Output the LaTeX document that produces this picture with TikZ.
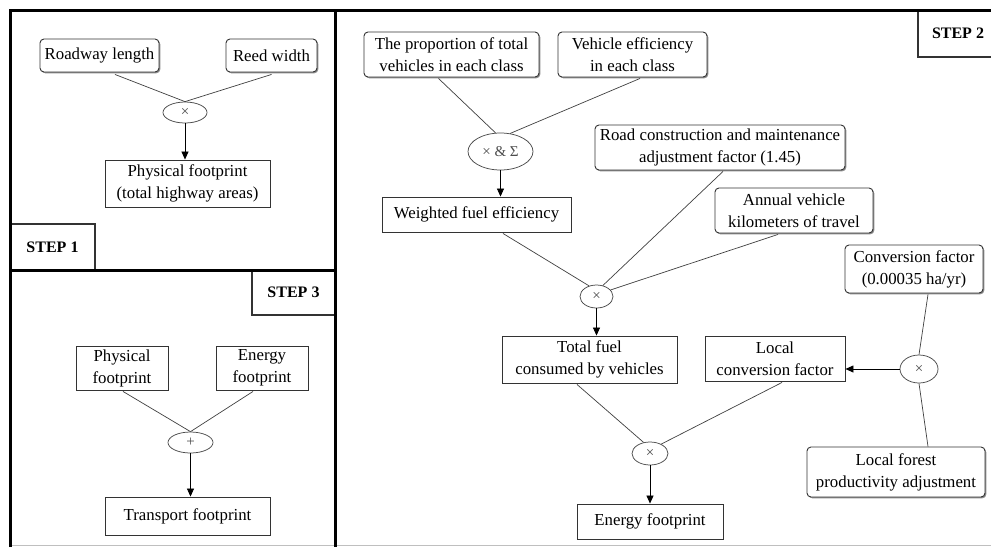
\documentclass[tikz,border=0pt]{standalone}
\usepackage{fontspec}
\setmainfont{Liberation Serif}
\usetikzlibrary{shapes.geometric,arrows.meta,shadows,calc}
\begin{document}
\begin{tikzpicture}[x=1pt,y=-1pt,
  txt/.style={font=\fontsize{16.8}{22}\selectfont, align=center, inner sep=0pt},
  rbox/.style={txt, draw=black!80, line width=0.9pt, rounded corners=4pt, fill=white,
     drop shadow={shadow xshift=1.3pt, shadow yshift=-1.3pt, fill=black!45, opacity=1}},
  sbox/.style={txt, draw=black!80, line width=0.9pt, fill=white,
     drop shadow={shadow xshift=1.3pt, shadow yshift=-1.3pt, fill=black!45, opacity=1}},
  op/.style={ellipse, draw=black!70, line width=0.75pt, inner sep=0pt, fill=white,
     font=\fontsize{15}{15}\selectfont, text=black!70},
  conn/.style={draw=black!75, line width=0.7pt},
  arr/.style={draw=black, line width=0.7pt, -{Triangle[length=8pt,width=7pt]}},
  frame/.style={line width=3pt, draw=black},
  steplab/.style={draw=black!80, line width=1.3pt, fill=white,
     font=\fontsize{16}{16}\selectfont\bfseries, inner sep=0pt}
]
\useasboundingbox (0,0) rectangle (991,547);
\fill[white] (0,0) rectangle (991,547);

% frame
\draw[black!25, line width=1pt] (10,545) -- (991,545);

% step labels
\node[steplab, minimum width=85pt, minimum height=46pt] (s1) at (52.5,247) {STEP 1};
\node[steplab, minimum width=83pt, minimum height=45pt] (s3) at (293.5,292.5) {STEP 3};
\node[steplab, minimum width=80pt, minimum height=47pt] (s2) at (958,33.5) {STEP 2};
\draw[frame] (10,270) -- (335,270);
\draw[frame] (10,547) -- (10,10) -- (991,10);
\draw[frame] (335,10) -- (335,547);

% ---------------- STEP 1
\node[rbox, minimum width=119pt, minimum height=33pt] (rl) at (99.5,55.5) {Roadway length};
\node[rbox, minimum width=91pt, minimum height=33pt] (rw) at (271.5,55.5) {Reed width};
\node[op, minimum width=44pt, minimum height=21pt] (m1) at (185,112.5) {×};
\node[sbox, minimum width=165pt, minimum height=47pt] (pf) at (187.5,183.5) {Physical footprint\\(total highway areas)};
\draw[conn] ($(rl.south)+(15.5,2)$) -- (m1.north);
\draw[conn] ($(rw.south)+(0,2)$) -- (m1.north);
\draw[arr] (m1.south) -- (m1.south |- pf.north);

% ---------------- STEP 3
\node[sbox, minimum width=92pt, minimum height=44pt] (pf3) at (122,368) {Physical\\footprint};
\node[sbox, minimum width=92pt, minimum height=44pt] (ef3) at (262,368) {Energy\\footprint};
\node[op, minimum width=45pt, minimum height=21pt] (p3) at (190.5,442.5) {+};
\node[sbox, minimum width=165pt, minimum height=38pt] (tf) at (187.5,516) {Transport footprint};
\draw[conn] ($(pf3.south)+(1,1)$) -- (p3.north);
\draw[conn] ($(ef3.south)+(-9,1)$) -- (p3.north);
\draw[arr] (p3.south) -- (p3.south |- tf.north);

% ---------------- STEP 2
\node[rbox, minimum width=175pt, minimum height=45pt] (prop) at (451.5,54.5) {The proportion of total\\vehicles in each class};
\node[rbox, minimum width=149pt, minimum height=45pt] (veh) at (632.5,54.5) {Vehicle efficiency\\in each class};
\node[op, minimum width=65pt, minimum height=37pt] (ms) at (500.5,151.5) {× \& Σ};
\node[sbox, minimum width=189pt, minimum height=35pt] (wfe) at (476.5,214.5) {Weighted fuel efficiency};
\node[rbox, minimum width=250pt, minimum height=45pt] (rc) at (720,147.5) {Road construction and maintenance\\adjustment factor (1.45)};
\node[rbox, minimum width=158pt, minimum height=45pt] (av) at (794,210.5) {Annual vehicle\\kilometers of travel};
\node[rbox, minimum width=138pt, minimum height=48pt] (cf) at (914,269) {Conversion factor\\(0.00035 ha/yr)};
\node[op, minimum width=33pt, minimum height=23pt] (m2) at (596.5,296.5) {×};
\node[sbox, minimum width=175pt, minimum height=47pt] (tfc) at (589.5,359.5) {Total fuel\\consumed by vehicles};
\node[sbox, minimum width=140pt, minimum height=45pt] (lcf) at (775,358.5) {Local\\conversion factor};
\node[op, minimum width=38pt, minimum height=28pt] (m3) at (919,369) {×};
\node[rbox, minimum width=178pt, minimum height=50pt] (lfp) at (896,472) {Local forest\\productivity adjustment};
\node[op, minimum width=36pt, minimum height=23pt] (m4) at (650,453.5) {×};
\node[sbox, minimum width=146pt, minimum height=35pt] (ef) at (650,521.5) {Energy footprint};

\draw[conn] ($(prop.south)+(-13,1)$) -- (ms.105);
\draw[conn] ($(veh.south)+(7.5,1)$) -- (ms.62);
\draw[arr] (ms.south) -- (ms.south |- wfe.north);
\draw[conn] ($(wfe.south)+(26.5,1)$) -- (m2.125);
\draw[conn] ($(rc.south)+(3,1)$) -- (m2.60);
\draw[conn] ($(av.south)+(-16,1)$) -- (m2.25);
\draw[arr] (m2.south) -- (m2.south |- tfc.north);
\draw[conn] ($(tfc.south)+(-12.5,1)$) -- (m4.120);
\draw[conn] ($(lcf.south)+(7,1)$) -- (m4.40);
\draw[arr] (m4.south) -- (m4.south |- ef.north);
\draw[conn] ($(cf.south)+(14,1)$) -- (m3.north);
\draw[conn] (m3.south) -- ($(lfp.north)+(32,0)$);
\draw[arr] (m3.west) -- (m3.west -| lcf.east);
\end{tikzpicture}
\end{document}
